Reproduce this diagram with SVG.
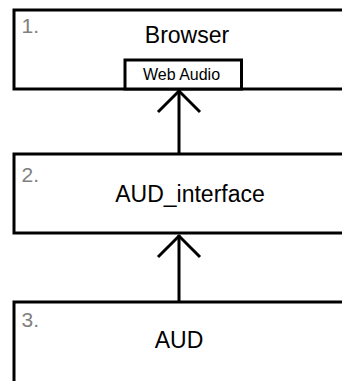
<svg xmlns="http://www.w3.org/2000/svg" width="342" height="381" viewBox="0 0 342 381">
  <style>
    .box { fill: #ffffff; stroke: #000000; stroke-width: 3; }
    .conn { fill: none; stroke: #000000; stroke-width: 3; }
    .title { font-family: "Liberation Sans", Arial, sans-serif; font-size: 23px; fill: #000000; text-anchor: middle; }
    .sub { font-family: "Liberation Sans", Arial, sans-serif; font-size: 16px; fill: #000000; text-anchor: middle; }
    .num { font-family: "Liberation Sans", Arial, sans-serif; font-size: 21px; fill: #808080; }
  </style>
  <rect width="342" height="381" fill="#ffffff"/>

  <!-- layer 1: browser, with Web Audio embedded at its lower edge -->
  <g id="browser">
    <rect class="box" x="14" y="10" width="345" height="79"/>
    <text class="num" x="21.5" y="33">1.</text>
    <text class="title" x="187" y="43">Browser</text>
    <g id="web-audio">
      <rect class="box" x="125" y="60" width="116.5" height="29"/>
      <text class="sub" x="181.5" y="79.5">Web Audio</text>
    </g>
  </g>

  <!-- layer 2 -->
  <g id="aud-interface">
    <rect class="box" x="14" y="154" width="345" height="79"/>
    <text class="num" x="21.5" y="182">2.</text>
    <text class="title" x="190" y="202">AUD_interface</text>
  </g>

  <!-- layer 3 -->
  <g id="aud">
    <rect class="box" x="14" y="302" width="345" height="100"/>
    <text class="num" x="21.5" y="327">3.</text>
    <text class="title" x="179" y="348">AUD</text>
  </g>

  <!-- upward dependency arrows -->
  <g id="connectors">
    <line class="conn" x1="179" y1="154" x2="179" y2="90"/>
    <polyline class="conn" points="158,112 179,91 200,112"/>
    <line class="conn" x1="179" y1="302" x2="179" y2="235"/>
    <polyline class="conn" points="158,257 179,236 200,257"/>
  </g>
</svg>
